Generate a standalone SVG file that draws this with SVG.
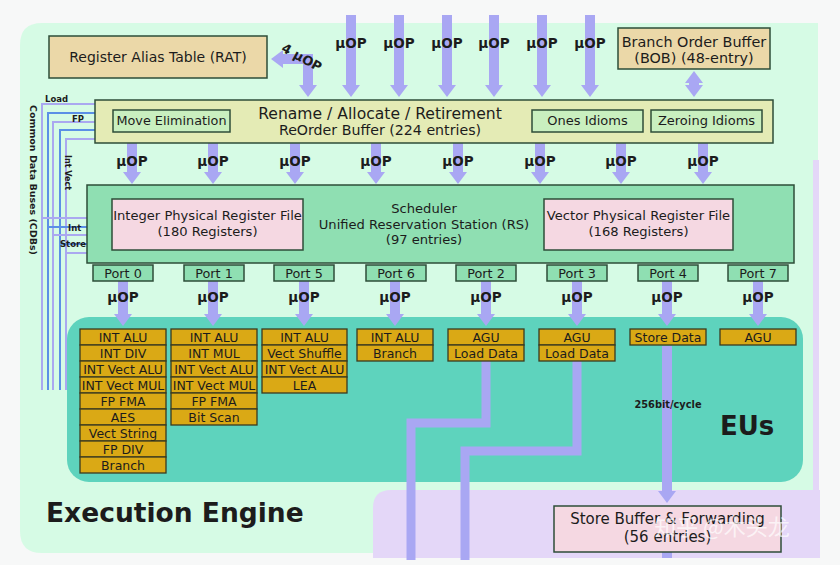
<svg xmlns="http://www.w3.org/2000/svg" width="840" height="565" viewBox="0 0 840 565">
<defs>
<style>
.t{font-family:"DejaVu Sans","Liberation Sans",sans-serif;fill:#1c1c1c}
.b{font-weight:bold}
.bx{stroke:#2e4d38;stroke-width:1.5}
.tan{fill:#ebd8a8}
.ren{fill:#e4ebb5}
.idm{fill:#c9efbf}
.sch{fill:#8fdfb2}
.prf{fill:#f5d8e2}
.eu{fill:#daa915;stroke:#3a3a20;stroke-width:1.3}
.ar{stroke:#a9a7f3;stroke-width:10;fill:none}
.ld{stroke:#a9a7f3;stroke-width:9;fill:none}
.cl{stroke:#aaa8f0;stroke-width:2;fill:none}
.cb{stroke:#5b8fe6;stroke-width:2;fill:none}
.eut{font-size:12.5px;text-anchor:middle}
.mu{font-size:13.5px;font-weight:bold;text-anchor:middle}
.pt{font-size:12.8px;text-anchor:middle}
</style>
<marker id="ah" viewBox="0 0 12 18" refX="1" refY="9" markerWidth="12" markerHeight="18" markerUnits="userSpaceOnUse" orient="auto-start-reverse"><path d="M0,0 L12,9 L0,18 z" fill="#a9a7f3"/></marker>
</defs>
<rect x="0" y="0" width="840" height="565" fill="#f7f8f8"/>
<g id="panels">
<path d="M42,23 H818 V553 H42 Q20,553 20,531 V45 Q20,23 42,23 Z" fill="#d6fbe5"/>
<rect x="813" y="160" width="6" height="340" fill="#e4d7f8"/>
<path d="M391,490 H820 V558 H373 V508 Q373,490 391,490 Z" fill="#e4d7f8"/>
<rect id="eus" x="67" y="317" width="736" height="165" rx="22" fill="#5ed3bd"/>
</g>
<g id="cdb">
<path class="cl" d="M42,390 V104 H95"/>
<path class="cb" d="M48,390 V113 H95"/>
<path class="cl" d="M53,390 V122 H95"/>
<path class="cb" d="M60,390 V130 H95"/>
<path class="cl" d="M66,390 V139 H95"/>
<path class="cl" d="M42,218 H87"/>
<path class="cb" d="M48,227 H87"/>
<path class="cl" d="M53,235 H87"/>
<path class="cb" d="M60,244 H87"/>
<path class="cl" d="M66,253 H87"/>
<text class="t b" font-size="9.5" transform="translate(30,105) rotate(90)">Common Data Buses (CDBs)</text>
<text class="t b" font-size="8.5" x="45" y="102">Load</text>
<text class="t b" font-size="8.5" x="72" y="122">FP</text>
<text class="t b" font-size="8" transform="translate(65,155) rotate(90)">Int Vect</text>
<text class="t b" font-size="8.5" x="68" y="231">Int</text>
<text class="t b" font-size="8.5" x="60" y="247">Store</text>
</g>
<g id="connectors">
<line class="ar" x1="351" y1="15" x2="351" y2="86" marker-end="url(#ah)"/>
<line class="ar" x1="399" y1="15" x2="399" y2="86" marker-end="url(#ah)"/>
<line class="ar" x1="447" y1="15" x2="447" y2="86" marker-end="url(#ah)"/>
<line class="ar" x1="494" y1="15" x2="494" y2="86" marker-end="url(#ah)"/>
<line class="ar" x1="542" y1="15" x2="542" y2="86" marker-end="url(#ah)"/>
<line class="ar" x1="590" y1="15" x2="590" y2="86" marker-end="url(#ah)"/>
<path class="ar" d="M308,86 V59 H282" marker-start="url(#ah)" marker-end="url(#ah)"/>
<line class="ar" x1="694" y1="82" x2="694" y2="86" marker-start="url(#ah)" marker-end="url(#ah)"/>
<line class="ar" x1="132" y1="143" x2="132" y2="173" marker-end="url(#ah)"/>
<line class="ar" x1="213" y1="143" x2="213" y2="173" marker-end="url(#ah)"/>
<line class="ar" x1="295" y1="143" x2="295" y2="173" marker-end="url(#ah)"/>
<line class="ar" x1="376" y1="143" x2="376" y2="173" marker-end="url(#ah)"/>
<line class="ar" x1="458" y1="143" x2="458" y2="173" marker-end="url(#ah)"/>
<line class="ar" x1="540" y1="143" x2="540" y2="173" marker-end="url(#ah)"/>
<line class="ar" x1="621" y1="143" x2="621" y2="173" marker-end="url(#ah)"/>
<line class="ar" x1="703" y1="143" x2="703" y2="173" marker-end="url(#ah)"/>
<line class="ar" x1="123" y1="281" x2="123" y2="315" marker-end="url(#ah)"/>
<line class="ar" x1="213" y1="281" x2="213" y2="315" marker-end="url(#ah)"/>
<line class="ar" x1="304" y1="281" x2="304" y2="315" marker-end="url(#ah)"/>
<line class="ar" x1="395" y1="281" x2="395" y2="315" marker-end="url(#ah)"/>
<line class="ar" x1="486" y1="281" x2="486" y2="315" marker-end="url(#ah)"/>
<line class="ar" x1="577" y1="281" x2="577" y2="315" marker-end="url(#ah)"/>
<line class="ar" x1="667" y1="281" x2="667" y2="315" marker-end="url(#ah)"/>
<line class="ar" x1="758" y1="281" x2="758" y2="315" marker-end="url(#ah)"/>
<path class="ld" d="M486,361 V423 H411 V560"/>
<path class="ld" d="M577,361 V451 H465 V560"/>
<line class="ar" x1="667" y1="346" x2="667" y2="492" marker-end="url(#ah)"/>
<line class="ar" x1="667" y1="552" x2="667" y2="558"/>
</g>
<g id="labels">
<text class="t mu" x="351" y="48">μOP</text>
<text class="t mu" x="399" y="48">μOP</text>
<text class="t mu" x="447" y="48">μOP</text>
<text class="t mu" x="494" y="48">μOP</text>
<text class="t mu" x="542" y="48">μOP</text>
<text class="t mu" x="590" y="48">μOP</text>
<text class="t b" font-size="13" text-anchor="middle" transform="translate(302,57) rotate(29)" y="5">4 μOP</text>
<text class="t mu" x="132" y="166">μOP</text>
<text class="t mu" x="213" y="166">μOP</text>
<text class="t mu" x="295" y="166">μOP</text>
<text class="t mu" x="376" y="166">μOP</text>
<text class="t mu" x="458" y="166">μOP</text>
<text class="t mu" x="540" y="166">μOP</text>
<text class="t mu" x="621" y="166">μOP</text>
<text class="t mu" x="703" y="166">μOP</text>
<text class="t mu" x="123" y="302">μOP</text>
<text class="t mu" x="213" y="302">μOP</text>
<text class="t mu" x="304" y="302">μOP</text>
<text class="t mu" x="395" y="302">μOP</text>
<text class="t mu" x="486" y="302">μOP</text>
<text class="t mu" x="577" y="302">μOP</text>
<text class="t mu" x="667" y="302">μOP</text>
<text class="t mu" x="758" y="302">μOP</text>
<text class="t b" font-size="9.8" x="668" y="408" text-anchor="middle">256bit/cycle</text>
<text class="t b" font-size="26" x="720" y="435">EUs</text>
<text class="t b" font-size="26.5" x="46" y="522">Execution Engine</text>
</g>
<g id="rat">
<rect class="bx tan" x="49" y="36" width="218" height="42"/>
<text class="t" font-size="14" x="158" y="62" text-anchor="middle">Register Alias Table (RAT)</text>
</g>
<g id="bob">
<rect class="bx tan" x="618" y="28" width="152" height="41"/>
<text class="t" font-size="14.4" x="694" y="47" text-anchor="middle">Branch Order Buffer</text>
<text class="t" font-size="14.4" x="694" y="63" text-anchor="middle">(BOB) (48-entry)</text>
</g>
<g id="rename">
<rect class="bx ren" x="95" y="100" width="678" height="43"/>
<text class="t" font-size="15.6" x="380" y="118.5" text-anchor="middle">Rename / Allocate / Retirement</text>
<text class="t" font-size="14.2" x="380" y="135" text-anchor="middle">ReOrder Buffer (224 entries)</text>
</g>
<g id="move-elim">
<rect class="bx idm" x="113" y="110" width="117" height="22"/>
<text class="t" font-size="12.8" x="171.5" y="125" text-anchor="middle">Move Elimination</text>
</g>
<g id="ones">
<rect class="bx idm" x="532" y="110" width="111" height="22"/>
<text class="t" font-size="13" x="587.5" y="125" text-anchor="middle">Ones Idioms</text>
</g>
<g id="zeroing">
<rect class="bx idm" x="651" y="110" width="111" height="22"/>
<text class="t" font-size="13" x="706.5" y="125" text-anchor="middle">Zeroing Idioms</text>
</g>
<g id="scheduler">
<rect class="bx sch" x="87" y="185" width="707" height="78"/>
<text class="t" font-size="13.1" x="424" y="213" text-anchor="middle">Scheduler</text>
<text class="t" font-size="13.1" x="424" y="229" text-anchor="middle">Unified Reservation Station (RS)</text>
<text class="t" font-size="13.1" x="424" y="244" text-anchor="middle">(97 entries)</text>
</g>
<g id="int-prf">
<rect class="bx prf" x="112" y="199" width="191" height="51"/>
<text class="t" font-size="13.1" x="207.5" y="220" text-anchor="middle">Integer Physical Register File</text>
<text class="t" font-size="13.1" x="207.5" y="236" text-anchor="middle">(180 Registers)</text>
</g>
<g id="vec-prf">
<rect class="bx prf" x="544" y="199" width="189" height="51"/>
<text class="t" font-size="13.1" x="638.5" y="220" text-anchor="middle">Vector Physical Register File</text>
<text class="t" font-size="13.1" x="638.5" y="236" text-anchor="middle">(168 Registers)</text>
</g>
<g id="port0"><rect class="bx sch" x="93" y="265" width="60" height="16"/><text class="t pt" x="123" y="277.5">Port 0</text></g>
<g id="port1"><rect class="bx sch" x="184" y="265" width="60" height="16"/><text class="t pt" x="214" y="277.5">Port 1</text></g>
<g id="port5"><rect class="bx sch" x="274" y="265" width="60" height="16"/><text class="t pt" x="304" y="277.5">Port 5</text></g>
<g id="port6"><rect class="bx sch" x="366" y="265" width="60" height="16"/><text class="t pt" x="396" y="277.5">Port 6</text></g>
<g id="port2"><rect class="bx sch" x="456" y="265" width="60" height="16"/><text class="t pt" x="486" y="277.5">Port 2</text></g>
<g id="port3"><rect class="bx sch" x="547" y="265" width="60" height="16"/><text class="t pt" x="577" y="277.5">Port 3</text></g>
<g id="port4"><rect class="bx sch" x="638" y="265" width="60" height="16"/><text class="t pt" x="668" y="277.5">Port 4</text></g>
<g id="port7"><rect class="bx sch" x="728" y="265" width="60" height="16"/><text class="t pt" x="758" y="277.5">Port 7</text></g>
<g id="eu-p0">
<rect class="eu" x="80" y="329" width="86" height="16"/><text class="t eut" x="123" y="342">INT ALU</text>
<rect class="eu" x="80" y="345" width="86" height="16"/><text class="t eut" x="123" y="358">INT DIV</text>
<rect class="eu" x="80" y="361" width="86" height="16"/><text class="t eut" x="123" y="374">INT Vect ALU</text>
<rect class="eu" x="80" y="377" width="86" height="16"/><text class="t eut" x="123" y="390">INT Vect MUL</text>
<rect class="eu" x="80" y="393" width="86" height="16"/><text class="t eut" x="123" y="406">FP FMA</text>
<rect class="eu" x="80" y="409" width="86" height="16"/><text class="t eut" x="123" y="422">AES</text>
<rect class="eu" x="80" y="425" width="86" height="16"/><text class="t eut" x="123" y="438">Vect String</text>
<rect class="eu" x="80" y="441" width="86" height="16"/><text class="t eut" x="123" y="454">FP DIV</text>
<rect class="eu" x="80" y="457" width="86" height="16"/><text class="t eut" x="123" y="470">Branch</text>
</g>
<g id="eu-p1">
<rect class="eu" x="171" y="329" width="86" height="16"/><text class="t eut" x="214" y="342">INT ALU</text>
<rect class="eu" x="171" y="345" width="86" height="16"/><text class="t eut" x="214" y="358">INT MUL</text>
<rect class="eu" x="171" y="361" width="86" height="16"/><text class="t eut" x="214" y="374">INT Vect ALU</text>
<rect class="eu" x="171" y="377" width="86" height="16"/><text class="t eut" x="214" y="390">INT Vect MUL</text>
<rect class="eu" x="171" y="393" width="86" height="16"/><text class="t eut" x="214" y="406">FP FMA</text>
<rect class="eu" x="171" y="409" width="86" height="16"/><text class="t eut" x="214" y="422">Bit Scan</text>
</g>
<g id="eu-p5">
<rect class="eu" x="262" y="329" width="85" height="16"/><text class="t eut" x="304.5" y="342">INT ALU</text>
<rect class="eu" x="262" y="345" width="85" height="16"/><text class="t eut" x="304.5" y="358">Vect Shuffle</text>
<rect class="eu" x="262" y="361" width="85" height="16"/><text class="t eut" x="304.5" y="374">INT Vect ALU</text>
<rect class="eu" x="262" y="377" width="85" height="16"/><text class="t eut" x="304.5" y="390">LEA</text>
</g>
<g id="eu-p6">
<rect class="eu" x="357" y="329" width="76" height="16"/><text class="t eut" x="395" y="342">INT ALU</text>
<rect class="eu" x="357" y="345" width="76" height="16"/><text class="t eut" x="395" y="358">Branch</text>
</g>
<g id="eu-p2">
<rect class="eu" x="448" y="329" width="76" height="16"/><text class="t eut" x="486" y="342">AGU</text>
<rect class="eu" x="448" y="345" width="76" height="16"/><text class="t eut" x="486" y="358">Load Data</text>
</g>
<g id="eu-p3">
<rect class="eu" x="539" y="329" width="76" height="16"/><text class="t eut" x="577" y="342">AGU</text>
<rect class="eu" x="539" y="345" width="76" height="16"/><text class="t eut" x="577" y="358">Load Data</text>
</g>
<g id="eu-p4">
<rect class="eu" x="630" y="329" width="76" height="16"/><text class="t eut" x="668" y="342">Store Data</text>
</g>
<g id="eu-p7">
<rect class="eu" x="720" y="329" width="76" height="16"/><text class="t eut" x="758" y="342">AGU</text>
</g>
<g id="store-buffer">
<rect class="bx prf" x="554" y="506" width="227" height="46"/>
<text class="t" font-size="15" x="667.5" y="524" text-anchor="middle">Store Buffer &amp; Forwarding</text>
<text class="t" font-size="15" x="667.5" y="542" text-anchor="middle">(56 entries)</text>
</g>
<text font-family="'Noto Sans CJK SC',sans-serif" font-size="22" fill="#ffffff" fill-opacity="0.7" x="722" y="535" text-anchor="middle">知乎 @木头龙</text>
</svg>
